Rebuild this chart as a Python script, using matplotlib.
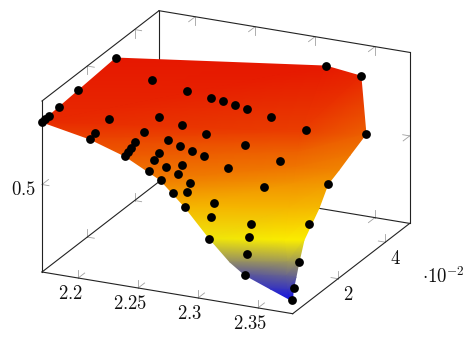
import numpy as np
import matplotlib
matplotlib.use('Agg')
import matplotlib.pyplot as plt
from matplotlib.colors import LinearSegmentedColormap

plt.rcParams['mathtext.fontset'] = 'cm'

# surface nodes, one row per line, y is in units of 10^-2
surf_x = [[2.1708, 2.3221, 2.3497],
          [2.1698, 2.3478, 2.3809],
          [2.2065, 2.3490, 2.3794],
          [2.2364, 2.3530, 2.3798],
          [2.2685, 2.3553, 2.3768],
          [2.2885, 2.3608, 2.3801],
          [2.3096, 2.3654, 2.3784],
          [2.3260, 2.3685, 2.3760],
          [2.3373, 2.3690, 2.3767],
          [2.3602, 2.3735, 2.3778],
          [2.3756, 2.3778, 2.3790]]
surf_y = [[3.162, 4.375, 4.451],
          [0.085, 2.017, 3.085],
          [0.255, 1.832, 2.488],
          [0.220, 1.542, 2.000],
          [0.085, 1.342, 1.687],
          [0.115, 0.849, 1.142],
          [0.085, 0.450, 0.592],
          [0.119, 0.419, 0.501],
          [0.182, 0.309, 0.339],
          [0.085, 0.167, 0.159],
          [0.102, 0.085, 0.085]]
surf_z = [[0.8221, 0.8221, 0.7949],
          [0.7861, 0.7405, 0.6725],
          [0.7269, 0.6657, 0.6249],
          [0.6793, 0.6249, 0.5977],
          [0.6113, 0.5705, 0.5569],
          [0.5025, 0.5025, 0.4957],
          [0.3801, 0.3937, 0.3937],
          [0.2849, 0.2985, 0.2985],
          [0.2305, 0.2441, 0.2441],
          [0.1965, 0.1965, 0.1965],
          [0.1625, 0.1625, 0.1625]]

# black sample points
pts_x = [2.1708, 2.2114, 2.2423, 2.2621, 2.2724, 2.2824, 2.2929, 2.3137, 2.3427, 2.3088,
         2.3393, 2.3221, 2.3497, 2.3809, 2.1706, 2.1713, 2.1709, 2.1706, 2.1698, 2.2071,
         2.2396, 2.2604, 2.2803, 2.2373, 2.2574, 2.2679, 2.2777, 2.2880, 2.2062, 2.2066,
         2.2335, 2.2348, 2.2354, 2.2363, 2.2517, 2.2522, 2.2635, 2.2742, 2.3067, 2.2558,
         2.2736, 2.2839, 2.2697, 2.2874, 2.2784, 2.2885, 2.3074, 2.3099, 2.3086, 2.3383,
         2.3768, 2.3383, 2.3398, 2.3398, 2.3373, 2.3769, 2.3760, 2.3770, 2.3790]
pts_y = [3.162, 2.626, 2.557, 2.554, 2.552, 2.540, 2.513, 2.465, 2.498, 1.613,
         1.557, 4.375, 4.451, 3.085, 1.567, 0.726, 0.327, 0.171, 0.085, 1.013,
         1.493, 1.429, 1.433, 0.991, 0.986, 0.963, 0.961, 0.947, 0.482, 0.240,
         0.791, 0.542, 0.407, 0.236, 0.881, 0.645, 0.581, 0.726, 0.998, 0.263,
         0.566, 0.563, 0.069, 0.272, 0.121, 0.115, 0.375, 0.130, 0.115, 0.922,
         1.687, 0.396, 0.237, 0.139, 0.182, 0.866, 0.501, 0.254, 0.068]
pts_z = [0.8221, 0.8017, 0.7881, 0.7745, 0.7677, 0.7609, 0.7541, 0.7405, 0.7065, 0.6793,
         0.6385, 0.8221, 0.7949, 0.6725, 0.8085, 0.8017, 0.7949, 0.7915, 0.7861, 0.7541,
         0.7541, 0.7405, 0.7201, 0.7269, 0.7065, 0.6929, 0.6793, 0.6657, 0.7337, 0.7269,
         0.6929, 0.6861, 0.6827, 0.6793, 0.6521, 0.6385, 0.6249, 0.6317, 0.6249, 0.6249,
         0.6045, 0.5705, 0.6113, 0.5569, 0.5569, 0.5025, 0.5161, 0.4753, 0.3733, 0.5705,
         0.5569, 0.4481, 0.4005, 0.3325, 0.2305, 0.4413, 0.2985, 0.2000, 0.1625]

x_ticks = [2.2, 2.25, 2.3, 2.35]
x_labels = ['$2.2$', '$2.25$', '$2.3$', '$2.35$']
y_ticks = [2, 4]
y_labels = ['$2$', '$4$']
z_ticks = [0.5]
z_labels = ['$0.5$']

x_min, x_max = 2.1698, 2.379
y_min, y_max = 0.085, 5.03
z_min, z_max = 0.1, 0.8817


# parallel projection of the box onto the page, result is in pixels
def proj(x, y, z):
    u = (np.asarray(x) - x_min) / (x_max - x_min)
    v = (np.asarray(y) - y_min) / (y_max - y_min)
    w = (np.asarray(z) - z_min) / (z_max - z_min)
    return 42 + 250.7 * u + 117 * v, 272 + 41.7 * u - 90.3 * v - 171 * w


def edge(p, q):
    xs, ys = proj([p[0], q[0]], [p[1], q[1]], [p[2], q[2]])
    ax.plot(xs, ys, color='#222222', lw=0.8, zorder=2, solid_capstyle='projecting')


def tick(p, step):
    # step is a pixel offset on the page
    sx, sy = proj(p[0], p[1], p[2])
    ax.plot([sx, sx + step[0]], [sy, sy + step[1]], color='#a0a0a0', lw=0.6, zorder=1)


fig = plt.figure(figsize=(4.74, 3.45), dpi=100)
ax = fig.add_axes([0, 0, 1, 1])
ax.set_xlim(0, 474)
ax.set_ylim(345, 0)
ax.axis('off')

# box, front edges are left out
edge((x_min, y_min, z_min), (x_max, y_min, z_min))
edge((x_max, y_min, z_min), (x_max, y_max, z_min))
edge((x_max, y_max, z_min), (x_min, y_max, z_min))
edge((x_min, y_max, z_min), (x_min, y_min, z_min))
edge((x_min, y_min, z_min), (x_min, y_min, z_max))
edge((x_min, y_max, z_min), (x_min, y_max, z_max))
edge((x_max, y_max, z_min), (x_max, y_max, z_max))
edge((x_min, y_min, z_max), (x_min, y_max, z_max))
edge((x_min, y_max, z_max), (x_max, y_max, z_max))

up = (0, -8)
down = (0, 8)
to_right = (7, 1.2)
to_left = (-7, -1.2)
to_back = (6.5, -5)
to_front = (-6.5, 5)

for t in x_ticks:
    tick((t, y_min, z_min), up)
    tick((t, y_min, z_min), to_back)
    tick((t, y_max, z_min), up)
    tick((t, y_max, z_min), to_front)
    tick((t, y_max, z_max), down)
    tick((t, y_max, z_max), to_front)
for t in y_ticks:
    tick((x_min, t, z_min), up)
    tick((x_min, t, z_min), to_right)
    tick((x_max, t, z_min), up)
    tick((x_max, t, z_min), to_left)
    tick((x_min, t, z_max), down)
    tick((x_min, t, z_max), to_right)
for t in z_ticks:
    tick((x_min, y_min, t), to_right)
    tick((x_min, y_min, t), to_back)
    tick((x_max, y_max, t), to_left)
    tick((x_max, y_max, t), to_front)

# surface, colours a bit dimmer than pure since the mesh lines darken it
hot = LinearSegmentedColormap.from_list(
    'hot2', [(0.08, 0.08, 0.88), (0.98, 0.94, 0), (0.94, 0.48, 0), (0.9, 0.06, 0)])
sx, sy = proj(np.array(surf_x).ravel(), np.array(surf_y).ravel(), np.array(surf_z).ravel())
rows, cols = np.array(surf_x).shape
tris = []
for r in range(rows - 1):
    for c in range(cols - 1):
        a = r * cols + c
        tris.append([a, a + 1, a + cols])
        tris.append([a + 1, a + cols + 1, a + cols])
ax.tripcolor(sx, sy, tris, np.array(surf_z).ravel(), shading='gouraud', cmap=hot,
             vmin=0.1625, vmax=0.8425, zorder=3)

# points
px, py = proj(pts_x, pts_y, pts_z)
ax.scatter(px, py, s=40, color='black', linewidths=0, zorder=4)

# labels
for t, lab in zip(x_ticks, x_labels):
    lx, ly = proj(t, y_min, z_min)
    ax.text(lx - 8, ly + 15.5, lab, fontsize=13.5, ha='center', va='center', color='#111111')
for t, lab in zip(y_ticks, y_labels):
    lx, ly = proj(x_max, t, z_min)
    ax.text(lx + 10.5, ly + 16, lab, fontsize=13.5, ha='center', va='center', color='#111111')
for t, lab in zip(z_ticks, z_labels):
    lx, ly = proj(x_min, y_min, t)
    ax.text(lx - 18.7, ly + 4.8, lab, fontsize=13.5, ha='center', va='center', color='#111111')
ax.text(443.7, 277, r'$\cdot 10^{-2}$', fontsize=13.5, ha='center', va='center', color='#111111')

fig.savefig('out.png', dpi=100)
